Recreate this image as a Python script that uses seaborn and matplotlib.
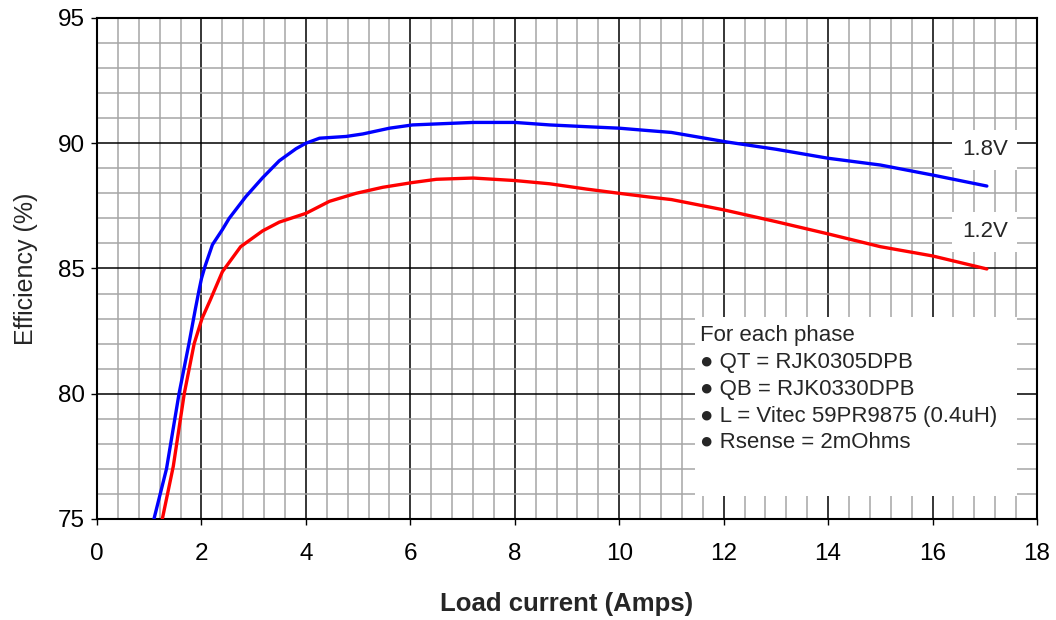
import numpy as np
import pandas as pd
import matplotlib
matplotlib.use("Agg")
import matplotlib.pyplot as plt
from matplotlib.ticker import MultipleLocator
from matplotlib.patches import Rectangle
import seaborn as sns

# 1.8V curve
v18_current = [1.09, 1.33, 1.57, 1.76, 1.88, 1.95, 2.0, 2.07, 2.21, 2.4, 2.53, 2.85, 3.17, 3.49,
               3.81, 4.0, 4.26, 4.77, 5.09, 5.6, 6.04, 6.5, 7.2, 8.0, 8.67, 9.37, 10.0, 10.58,
               11.0, 12.06, 13.0, 14.0, 15.0, 16.0, 17.04]
v18_eff = [75, 77, 80, 82, 83.35, 84.1, 84.6, 85.1, 85.95, 86.55, 87.0, 87.87, 88.62, 89.3,
           89.78, 90.0, 90.2, 90.27, 90.37, 90.6, 90.73, 90.77, 90.83, 90.83, 90.73, 90.66, 90.6, 90.5,
           90.43, 90.05, 89.76, 89.4, 89.13, 88.73, 88.29]

# 1.2V curve
v12_current = [1.25, 1.46, 1.67, 1.86, 2.01, 2.17, 2.4, 2.75, 3.17, 3.49, 4.0, 4.45, 4.96, 5.47,
               6.04, 6.5, 7.2, 8.0, 8.67, 9.37, 10.0, 10.58, 11.0, 12.0, 13.0, 14.0, 15.0,
               16.0, 17.04]
v12_eff = [75, 77.1, 80, 82, 83, 83.75, 84.87, 85.87, 86.5, 86.85, 87.2, 87.68, 88.0, 88.24,
           88.43, 88.56, 88.61, 88.51, 88.38, 88.17, 88.0, 87.85, 87.75, 87.34, 86.87, 86.38, 85.87,
           85.5, 84.98]

notes = ["For each phase",
         "\u25cf QT = RJK0305DPB",
         "\u25cf QB = RJK0330DPB",
         "\u25cf L = Vitec 59PR9875 (0.4uH)",
         "\u25cf Rsense = 2mOhms"]

df18 = pd.DataFrame({"current": v18_current, "eff": v18_eff})
df12 = pd.DataFrame({"current": v12_current, "eff": v12_eff})

sns.set_style("ticks")
plt.rcParams["font.family"] = ["Liberation Sans", "DejaVu Sans"]

fig = plt.figure(figsize=(10.56, 6.2), dpi=100)
ax = fig.add_axes([0.0919, 0.163, 0.8901, 0.808])

sns.lineplot(data=df18, x="current", y="eff", color="#0000ff", linewidth=2.4, sort=False, ax=ax, zorder=3)
sns.lineplot(data=df12, x="current", y="eff", color="#ff0000", linewidth=2.4, sort=False, ax=ax, zorder=3)

ax.set_xlim(0, 18)
ax.set_ylim(75, 95)
ax.xaxis.set_major_locator(MultipleLocator(2))
ax.xaxis.set_minor_locator(MultipleLocator(0.4))
ax.yaxis.set_major_locator(MultipleLocator(5))
ax.yaxis.set_minor_locator(MultipleLocator(1))
ax.grid(which="minor", color="#a6a6a6", linewidth=1.1)
ax.grid(which="major", color="black", linewidth=1.1)
ax.set_axisbelow(True)
ax.tick_params(which="major", direction="out", length=4, width=1, labelsize=17.5, colors="black")
ax.tick_params(axis="x", which="major", pad=13)
ax.tick_params(axis="y", which="major", pad=5)
ax.tick_params(which="minor", length=0)
for s in ax.spines.values():
    s.set_color("black")
    s.set_linewidth(1.5)

ax.set_xlabel("Load current (Amps)", fontsize=18.5, fontweight="bold", labelpad=20)
ax.set_ylabel("Efficiency (%)", fontsize=18, labelpad=14)

# curve labels
box = dict(facecolor="white", edgecolor="none", pad=7)
ax.text(17.0, 89.73, "1.8V", fontsize=16, ha="center", va="center", bbox=box, zorder=4)
ax.text(17.0, 86.46, "1.2V", fontsize=16, ha="center", va="center", bbox=box, zorder=4)

# notes box
ax.add_patch(Rectangle((11.45, 75.9), 6.17, 7.15, facecolor="white", edgecolor="none", zorder=4))
ax.text(11.55, 82.75, "\n".join(notes), fontsize=16, ha="left", va="top",
        linespacing=1.37, zorder=5)

fig.savefig("out.png", dpi=100)
